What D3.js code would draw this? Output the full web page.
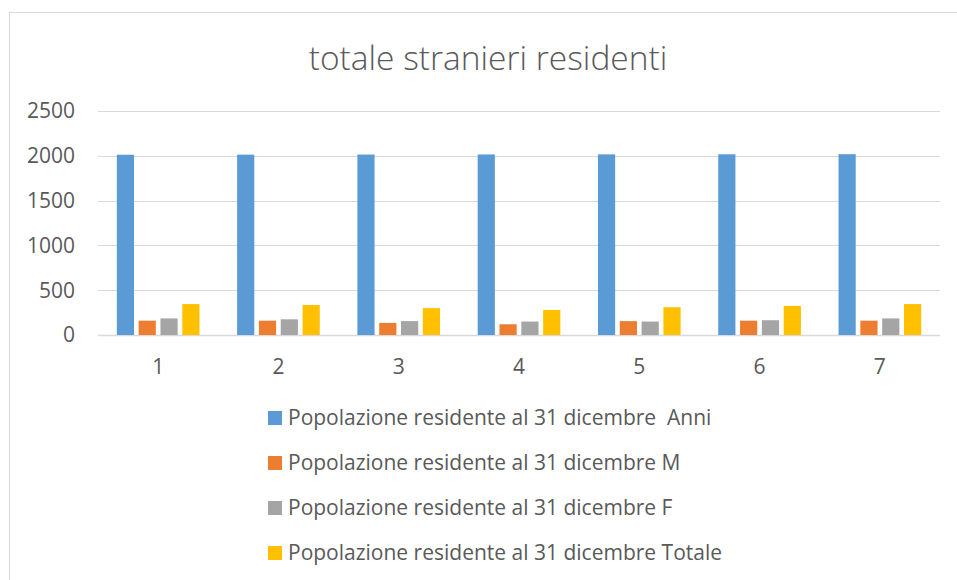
<!DOCTYPE html>
<html>
<head>
<meta charset="utf-8">
<script src="https://cdn.jsdelivr.net/npm/d3@7"></script>
<style>
  body { margin: 0; background: #fff; }
  text { font-family: "Open Sans", sans-serif; fill: #595959; white-space: pre; }
</style>
</head>
<body>
<svg id="chart"></svg>
<script>
// data
var categories = ["1", "2", "3", "4", "5", "6", "7"];
var seriesNames = [
    "Popolazione residente al 31 dicembre  Anni",
    "Popolazione residente al 31 dicembre M",
    "Popolazione residente al 31 dicembre F",
    "Popolazione residente al 31 dicembre Totale"
];
var anni = [2012, 2013, 2014, 2015, 2016, 2017, 2018];
var maschi = [160, 160, 135, 120, 155, 160, 160];
var femmine = [185, 175, 155, 150, 150, 165, 185];
var totale = [345, 335, 300, 280, 310, 325, 345];
var yTicks = [0, 500, 1000, 1500, 2000, 2500];
var colors = ["#5b9bd5", "#ed7d31", "#a5a5a5", "#ffc000"];

var series = [anni, maschi, femmine, totale];

width = 957;
height = 580;
margin = {left: 98, right: 17, top: 111, bottom: 245};

svg = d3.select("#chart")
    .attr("width", width)
    .attr("height", height);

// chart frame
svg.append("rect")
    .attr("x", 9.5).attr("y", 12.5)
    .attr("width", 1000).attr("height", 1000)
    .attr("fill", "none")
    .attr("stroke", "#d9d9d9");

svg.append("text")
    .attr("x", 488).attr("y", 70)
    .attr("text-anchor", "middle")
    .style("font-size", "33.5px")
    .style("font-weight", 300)
    .text("totale stranieri residenti");

x = d3.scaleBand()
    .domain(categories)
    .range([margin.left, width - margin.right]);

y = d3.scaleLinear()
    .domain([0, 2500])
    .range([height - margin.bottom, margin.top]);

// gridlines
svg.append("g")
    .selectAll("line")
    .data(yTicks)
    .join("line")
        .attr("x1", margin.left)
        .attr("x2", width - margin.right)
        .attr("y1", (d) => Math.round(y(d)) + 0.5)
        .attr("y2", (d) => Math.round(y(d)) + 0.5)
        .attr("stroke", "#d9d9d9")
        .attr("stroke-width", (d) => d == 0 ? 1.5 : 1);

svg.append("g")
    .selectAll("text")
    .data(yTicks)
    .join("text")
        .attr("x", 75)
        .attr("y", (d) => y(d))
        .attr("dy", "0.35em")
        .attr("text-anchor", "end")
        .style("font-size", "21px")
        .text((d) => d);

// excel style: gap width 219%, overlap -27%
bw = x.bandwidth() / (4 + 3 * 0.27 + 2.19);
step = bw * 1.27;
groupW = bw + 3 * step;

groups = svg.append("g")
    .selectAll("g")
    .data(categories)
    .join("g")
        .attr("transform", (d) => "translate(" + (x(d) + (x.bandwidth() - groupW) / 2) + ",0)");

groups.selectAll("rect")
    .data((d, i) => series.map((s, k) => ({k: k, v: s[i]})))
    .join("rect")
        .attr("x", (d) => d.k * step)
        .attr("y", (d) => y(d.v))
        .attr("width", bw)
        .attr("height", (d) => y(0) - y(d.v))
        .attr("fill", (d) => colors[d.k]);

svg.append("g")
    .selectAll("text")
    .data(categories)
    .join("text")
        .attr("x", (d) => x(d) + x.bandwidth() / 2)
        .attr("y", 367)
        .attr("dy", "0.35em")
        .attr("text-anchor", "middle")
        .style("font-size", "21px")
        .text((d) => d);

// legend
legend = svg.append("g")
    .selectAll("g")
    .data(seriesNames)
    .join("g")
        .attr("transform", (d, i) => "translate(268," + (418 + i * 45) + ")");

legend.append("rect")
    .attr("x", 0).attr("y", -7)
    .attr("width", 14).attr("height", 14)
    .attr("fill", (d, i) => colors[i]);

legend.append("text")
    .attr("x", 20)
    .attr("dy", "0.35em")
    .style("font-size", "21px")
    .text((d) => d);
</script>
</body>
</html>
